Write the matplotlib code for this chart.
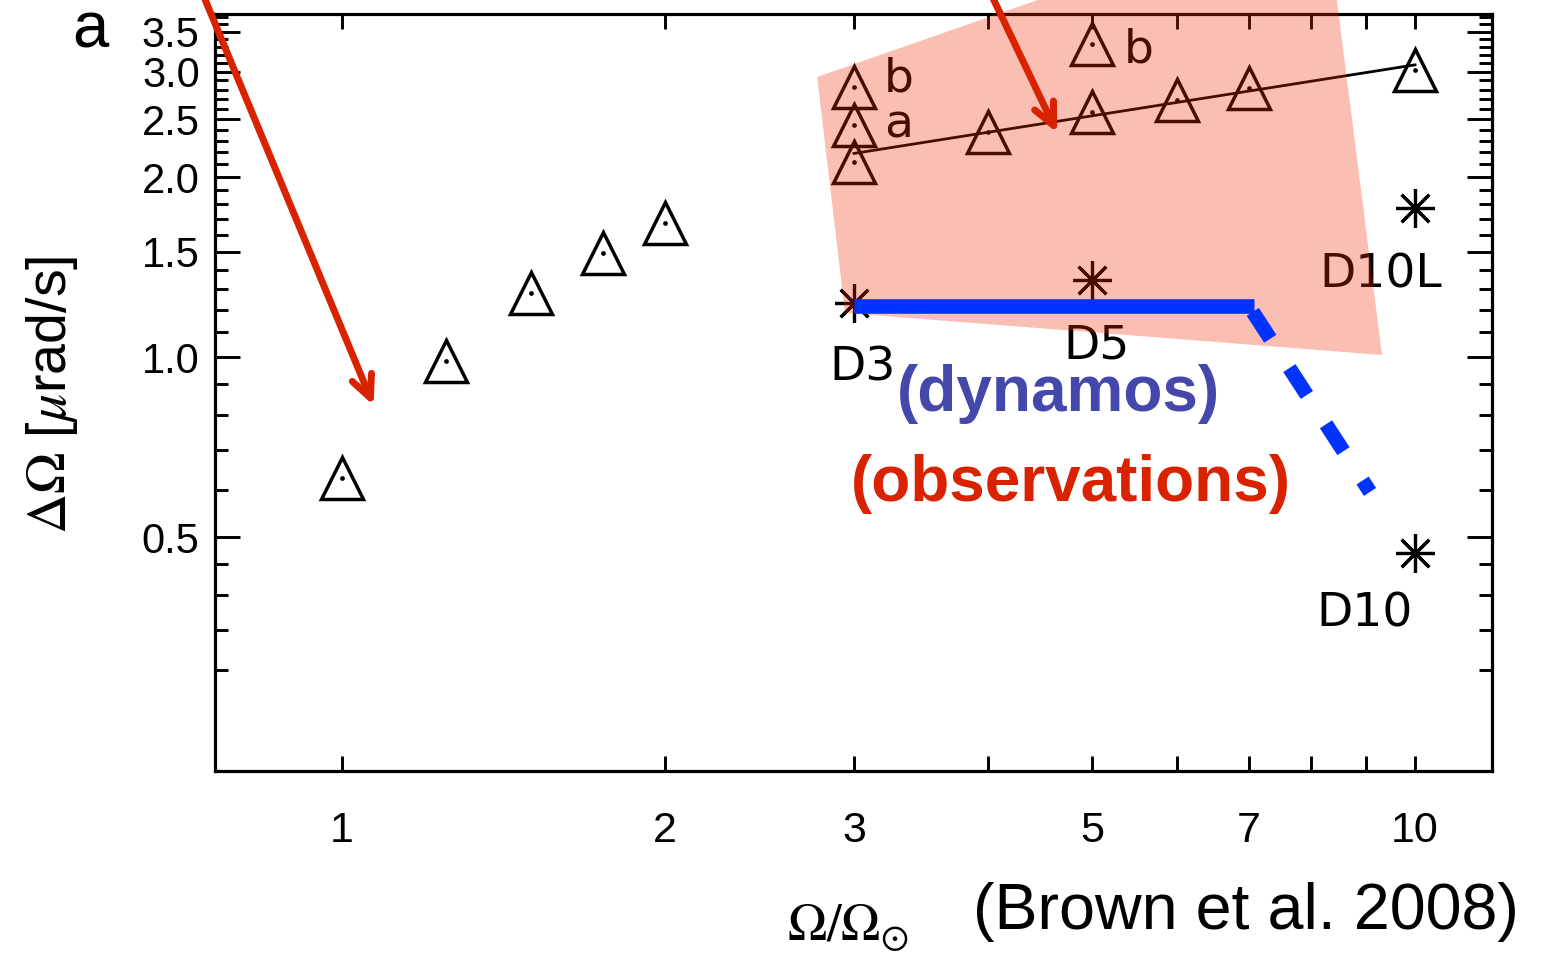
import matplotlib.pyplot as plt
from matplotlib.patches import Polygon
from matplotlib.ticker import FixedLocator, NullFormatter, NullLocator

plt.rcParams['font.family'] = ['Liberation Sans', 'DejaVu Sans']
plt.rcParams['mathtext.fontset'] = 'stix'

# rotation rate (in solar units) and differential rotation (micro rad/s)
slow_rot = [1.0, 1.25, 1.5, 1.75, 2.0]
slow_dom = [0.628, 0.985, 1.28, 1.49, 1.675]

fast_rot = [3, 3, 3, 4, 5, 5, 6, 7, 10]
fast_dom = [2.12, 2.44, 2.83, 2.38, 2.57, 3.34, 2.69, 2.82, 3.02]
fast_tags = ['', 'a', 'b', '', '', 'b', '', '', '']

# power-law fit through the fast rotators
fit_rot = [3, 10]
fit_dom = [2.19, 3.08]

# dynamo runs
dyn_names = ['D3', 'D5', 'D10L', 'D10']
dyn_rot = [3, 5, 10, 10]
dyn_dom = [1.23, 1.345, 1.775, 0.471]

# dynamo trend: flat, then falling off
trend_rot = [3, 7.08]
trend_dom = [1.215, 1.215]
drop_rot = [7.06, 9.08]
drop_dom = [1.19, 0.595]

# shaded region of observed stars
obs_rot = [2.772, 8.228, 9.317, 2.943]
obs_dom = [2.939, 5.81, 1.008, 1.185]

xticks = [1, 2, 3, 4, 5, 6, 7, 8, 9, 10]
xticklabels = ['1', '2', '3', '', '5', '', '7', '', '', '10']
yticks = [0.5, 1.0, 1.5, 2.0, 2.5, 3.0, 3.5]
yticklabels = ['0.5', '1.0', '1.5', '2.0', '2.5', '3.0', '3.5']
yminor = [0.3, 0.35, 0.4, 0.45, 0.6, 0.7, 0.8, 0.9,
          1.1, 1.2, 1.3, 1.4, 1.6, 1.7, 1.8, 1.9,
          2.1, 2.2, 2.3, 2.4, 2.6, 2.7, 2.8, 2.9,
          3.1, 3.2, 3.3, 3.4, 3.6, 3.7]

W, H = 1544, 967
red = '#d92200'
blue = '#0033ff'


def fpos(x, y):
    return x / W, 1 - y / H


fig = plt.figure(figsize=(W / 100, H / 100), dpi=100)
ax = fig.add_axes([215 / W, 1 - 771 / H, 1277 / W, 757 / H])
ax.set_xscale('log')
ax.set_yscale('log')
ax.set_xlim(0.7614, 11.797)
ax.set_ylim(0.2032, 3.746)

tri = dict(ls='none', marker='^', ms=30, mfc='none', mec='k', mew=2.5, zorder=3)
ax.plot(slow_rot, slow_dom, **tri)
ax.plot(slow_rot, slow_dom, 'ko', ms=2.4, zorder=3)
ax.plot(fast_rot, fast_dom, **tri)
ax.plot(fast_rot, fast_dom, 'ko', ms=2.4, zorder=3)
ax.plot(fit_rot, fit_dom, 'k-', lw=2.0, zorder=2)

ax.plot(dyn_rot, dyn_dom, ls='none', marker=(8, 2, 0), ms=28, mec='k',
        mew=2.3, zorder=3)

tag_off = {('a', 3): (30, -12), ('b', 3): (30, -5), ('b', 5): (32, -19)}
for x, y, t in zip(fast_rot, fast_dom, fast_tags):
    if t:
        ax.annotate(t, (x, y), xytext=tag_off[(t, x)], textcoords='offset pixels',
                    fontsize=34, family='DejaVu Sans', va='baseline', zorder=3)

dyn_off = {'D3': (-25, -77), 'D5': (-29, -78), 'D10L': (-96, -79), 'D10': (-99, -74)}
for x, y, t in zip(dyn_rot, dyn_dom, dyn_names):
    ax.annotate(t, (x, y), xytext=dyn_off[t], textcoords='offset pixels',
                fontsize=34, family='DejaVu Sans', va='baseline', zorder=3)

# translucent band over the observations
band = Polygon(list(zip(obs_rot, obs_dom)), closed=True, fc='#f52a00', ec='none',
               alpha=0.3, zorder=4, clip_on=False)
ax.add_patch(band)

ax.plot(trend_rot, trend_dom, color=blue, lw=10.5, solid_capstyle='butt', zorder=5)
ax.plot(drop_rot, drop_dom, color=blue, lw=10.5, dashes=(2.2, 2.4),
        dash_capstyle='butt', zorder=5)

arrow = dict(arrowstyle='->,head_length=1.6,head_width=0.75', lw=5, color=red,
             shrinkA=0, shrinkB=0, capstyle='round', joinstyle='round', clip_on=False)
ax.annotate('', xy=(1.07, 0.83), xytext=(0.739, 4.109), arrowprops=arrow,
            annotation_clip=False, zorder=6)
ax.annotate('', xy=(4.64, 2.37), xytext=(4.009, 4.109), arrowprops=arrow,
            annotation_clip=False, zorder=6)

ax.text(4.65, 0.866, '(dynamos)', color='#4448ab', fontsize=46, fontweight='bold',
        ha='center', va='center', zorder=6)
ax.text(4.78, 0.614, '(observations)', color=red, fontsize=46, fontweight='bold',
        ha='center', va='center', zorder=6)

for s in ax.spines.values():
    s.set_linewidth(2.3)
ax.xaxis.set_major_locator(FixedLocator(xticks))
ax.set_xticklabels(xticklabels)
ax.xaxis.set_minor_locator(NullLocator())
ax.yaxis.set_major_locator(FixedLocator(yticks))
ax.set_yticklabels(yticklabels)
ax.yaxis.set_minor_locator(FixedLocator(yminor))
ax.yaxis.set_minor_formatter(NullFormatter())
ax.tick_params(which='both', direction='in', top=True, right=True, width=2.1)
ax.tick_params(axis='y', which='major', length=18, pad=11, labelsize=30)
ax.tick_params(axis='y', which='minor', length=9.5)
ax.tick_params(axis='x', which='major', length=11, pad=29, labelsize=31)

fig.text(*fpos(52, 395), r'$\Delta\Omega$ [$\mu$rad/s]', rotation=90,
         fontsize=40, ha='center', va='center')
fig.text(*fpos(787, 942), r'$\Omega/\Omega_{\odot}$', fontsize=38,
         ha='left', va='baseline')
fig.text(*fpos(973, 912), '(Brown et al. 2008)', fontsize=46.5, ha='left', va='center')
fig.text(*fpos(72, 47), 'a', fontsize=47, ha='left', va='baseline')

fig.savefig('out.png', dpi=100)
